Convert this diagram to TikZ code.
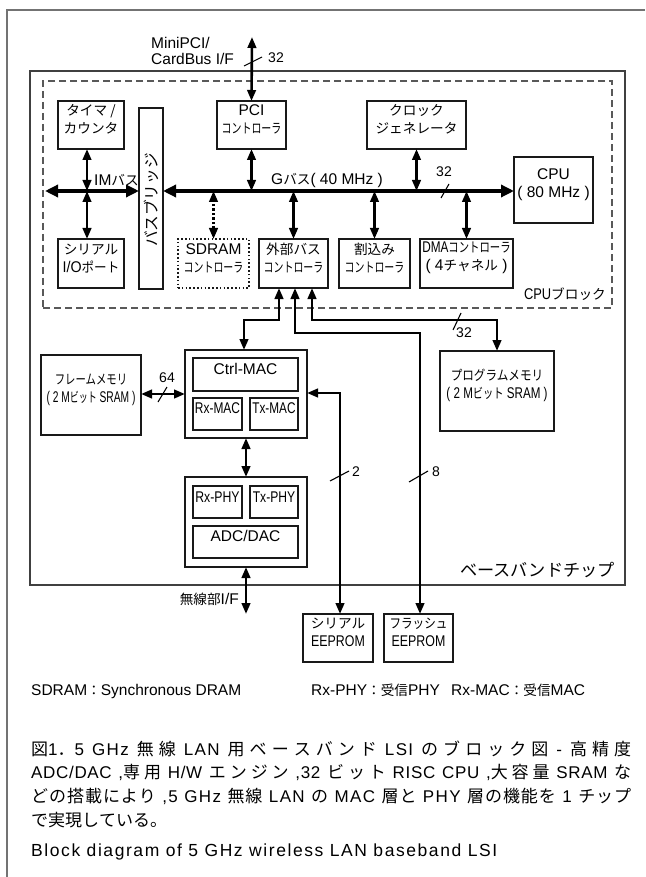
\documentclass[tikz,border=0pt]{standalone}
\usepackage{fontspec}
\usepackage{graphicx}
\setmainfont{Liberation Sans}
\newfontfamily\jp[Scale=0.88]{Noto Sans CJK JP}
\newfontfamily\jpc{Noto Sans CJK JP}
\newfontfamily\capa[LetterSpace=8]{Liberation Sans}
\newfontfamily\capb[LetterSpace=4]{Liberation Sans}
\usetikzlibrary{arrows.meta,fit}
\newcommand\fs{\fontsize{15.5}{18}\selectfont}
\newcommand\cz[2]{\scalebox{#1}[1]{#2}}
\tikzset{
  bx/.style={draw=black!90, line width=1.2pt, inner sep=0pt, outer sep=0pt, align=center, font=\fs},
  plain/.style={draw=black!90, line width=1.2pt, inner sep=0pt, outer sep=0pt},
  dotbx/.style={bx, dash pattern=on 1.6pt off 2.2pt, line width=1.4pt},
  lbl/.style={inner sep=0pt, font=\fs},
  num/.style={inner sep=0pt, font=\fontsize{14}{16}\selectfont},
  bus/.style={line width=3.6pt, {Triangle[length=13pt,width=12pt]}-{Triangle[length=13pt,width=12pt]}},
  lnk/.style={line width=2.6pt, {Triangle[length=11pt,width=8.5pt]}-{Triangle[length=11pt,width=8.5pt]}},
  dlnk/.style={lnk, dash pattern=on 2.5pt off 2pt},
  slash/.style={line width=1.1pt},
  framel/.style={draw=black!55, line width=1.5pt},
  chipbox/.style={draw=black!75, line width=1.3pt, inner sep=0pt, outer sep=0pt},
  cpubox/.style={draw=black!65, line width=1.2pt, dash pattern=on 7pt off 4pt, inner sep=0pt, outer sep=0pt},
}
\begin{document}
\begin{tikzpicture}[x=1pt,y=-1pt]
\useasboundingbox (0,0) rectangle (645,877);
\fill[white] (0,0) rectangle (645,877);
\draw[framel] (645,10) -- (7,10) -- (7,877);
\node[chipbox, fit={(30,71) (625,585)}] (chip) {};
\node[cpubox, fit={(43,81) (612,308)}] (cpublock) {};

% CPU block contents
\node[bx, fit={(58,101) (124,149)}] (timer) {{\jp タイマ /}\\{\jp カウンタ}};
\node[plain, fit={(139,108) (163,289)}] (bridge) {};
\node[inner sep=0pt, rotate=90, font=\fontsize{17.8}{18}\selectfont] (bridgelbl) at (151,200) {\jp バスブリッジ};
\node[bx, fit={(217,101) (286,149)}] (pci) {PCI\\\cz{0.73}{\jp コントローラ}};
\node[bx, fit={(367,101) (466,149)}] (clock) {{\jp クロック}\\{\jp ジェネレータ}};
\node[bx, fit={(514,157) (593,223)}] (cpu) {CPU\\( 80 MHz )};
\node[bx, fit={(58,239) (124,288)}] (sio) {{\jp シリアル}\\\cz{0.92}{I/O{\jp ポート}}};
\node[dotbx, fit={(178,239) (249,288)}] (sdram) {SDRAM\\\cz{0.73}{\jp コントローラ}};
\node[bx, fit={(259,239) (328,288)}] (extbus) {{\jp 外部バス}\\\cz{0.73}{\jp コントローラ}};
\node[bx, fit={(339,239) (410,288)}] (intc) {{\jp 割込み}\\\cz{0.73}{\jp コントローラ}};
\node[bx, fit={(420,239) (513,288)}] (dma) {\cz{0.76}{DMA{\jp コントローラ}}\\( 4{\jp チャネル} )};

% memories and MAC/PHY
\node[bx, fit={(41,355) (141,435)}] (fmem) {\cz{0.76}{\jp フレームメモリ}\\\cz{0.66}{( 2 M{\jp ビット} SRAM )}};
\node[bx, fit={(440,351) (554,431)}] (pmem) {\cz{0.85}{\jp プログラムメモリ}\\\cz{0.75}{( 2 M{\jp ビット} SRAM )}};
\node[plain, line width=1.5pt, fit={(185,350) (307,438)}] (mac) {};
\node[bx, fit={(193,358) (298,391)}] (ctrlmac) {Ctrl-MAC};
\node[bx, fit={(193,398) (242,430)}] (rxmac) {\cz{0.77}{Rx-MAC}};
\node[bx, fit={(250,398) (298,430)}] (txmac) {\cz{0.76}{Tx-MAC}};
\node[plain, line width=1.5pt, fit={(185,477) (307,567)}] (phy) {};
\node[bx, fit={(193,486) (242,518)}] (rxphy) {\cz{0.79}{Rx-PHY}};
\node[bx, fit={(250,486) (298,518)}] (txphy) {\cz{0.78}{Tx-PHY}};
\node[bx, fit={(193,526) (298,558)}] (adc) {ADC/DAC};
\node[bx, fit={(303,614) (373,662)}] (seep) {{\jp シリアル}\\\cz{0.8}{EEPROM}};
\node[bx, fit={(384,614) (453,662)}] (feep) {\cz{0.85}{\jp フラッシュ}\\\cz{0.8}{EEPROM}};

% labels
\node[lbl, anchor=west, align=left, font=\fontsize{15.5}{16.5}\selectfont] (mpci) at (151,51) {MiniPCI/\\CardBus I/F};
\node[lbl, anchor=west] (imlbl) at (94,180) {IM{\jp バス}};
\node[lbl, anchor=west] (glbl) at (271,180) {G{\jp バス}( 40 MHz )};
\node[lbl, anchor=east] (cpublk) at (606,294) {\cz{0.83}{CPU}{\jp ブロック}};
\node[lbl, anchor=east] (bblbl) at (615,570) {\fontsize{19.5}{20}\selectfont\jp ベースバンドチップ};
\node[lbl, anchor=east] (rflbl) at (239,599) {{\jp 無線部}I/F};
\node[num] (n32a) at (276,58) {32};
\node[num] (n32b) at (444,172) {32};
\node[num] (n32c) at (464,333) {32};
\node[num] (n64) at (167,378) {64};
\node[num] (n2) at (356,472) {2};
\node[num] (n8) at (436,472) {8};

% coordinates
\coordinate (mtop) at (252,37);
\coordinate (imL) at (45,191);
\coordinate (gb) at (300,191);
\coordinate (imx) at (87,191);
\coordinate (rf) at (246,614);

% buses
\draw[bus] (imL) -- (imL -| bridge.west);
\draw[bus] (gb -| bridge.east) -- (gb -| cpu.west);
\draw[lnk] (timer.south -| imx) -- (imx);
\draw[lnk] (sio.north -| imx) -- (imx);
\draw[lnk] (pci.north) -- (mtop);
\draw[lnk] (pci.south) -- (pci.south |- gb);
\draw[lnk] (clock.south) -- (clock.south |- gb);
\draw[dlnk] (sdram.north) -- (sdram.north |- gb);
\draw[lnk] (extbus.north) -- (extbus.north |- gb);
\draw[lnk] (intc.north) -- (intc.north |- gb);
\draw[lnk] (dma.north) -- (dma.north |- gb);

% external connections
\draw[lnk] (extbus.south -| 279,0) -- (279,320) -- (244,320) -- (mac.north -| 244,0);
\draw[lnk] (extbus.south -| 295,0) -- (295,333) -- (420,333) -- (feep.north -| 420,0);
\draw[lnk] (extbus.south -| 312,0) -- (312,320) -- (497,320) -- (pmem.north -| 497,0);
\draw[lnk] (mac.east |- 0,393) -- (340,393) -- (seep.north -| 340,0);
\draw[lnk] (fmem.east |- 0,394) -- (mac.west |- 0,394);
\draw[lnk] (mac.south -| 246,0) -- (phy.north -| 246,0);
\draw[lnk] (phy.south -| rf) -- (rf);

% width slashes
\draw[slash] (244,66) -- (262,57);
\draw[slash] (441,198) -- (449,184);
\draw[slash] (453,330) -- (461,313);
\draw[slash] (158,402) -- (167,387);
\draw[slash] (330,481) -- (349,471);
\draw[slash] (409,482) -- (428,471);

% notes
\node[lbl, anchor=base west] (note1) at (31,695) {SDRAM{\jp ：}Synchronous DRAM};
\node[lbl, anchor=base west] (note2) at (311,695) {Rx-PHY{\jp ：受信}PHY};
\node[lbl, anchor=base west] (note3) at (451,695) {Rx-MAC{\jp ：受信}MAC};

% caption
\node[inner sep=0pt, anchor=base west] (cap) at (31,755) {\parbox[t]{600pt}{\fontsize{17}{23.7}\selectfont
\XeTeXlinebreaklocale "ja"\XeTeXlinebreakskip=0pt plus 8pt\tolerance=9999\emergencystretch=0pt
\capa{\jpc 図}1{\jpc ．}5 GHz {\jpc 無線} LAN {\jpc 用ベースバンド} LSI {\jpc のブロック図} - {\jpc 高精度}\linebreak
\capb\mbox{ADC/DAC} ,{\jpc 専用} \mbox{H/W} {\jpc エンジン} ,32 {\jpc ビット} RISC CPU ,{\jpc 大容量} SRAM {\jpc な}\linebreak
\capa{\jpc どの搭載により} ,5 GHz {\jpc 無線} LAN {\jpc の} MAC {\jpc 層と} PHY {\jpc 層の機能を} 1 {\jpc チップ}\linebreak
{\jpc で実現している。}\par}};
\node[inner sep=0pt, anchor=base west, font=\fontsize{17.5}{20}\selectfont\addfontfeatures{LetterSpace=9}] (blk) at (31,856) {Block diagram of 5 GHz wireless LAN baseband LSI};
\end{tikzpicture}
\end{document}
